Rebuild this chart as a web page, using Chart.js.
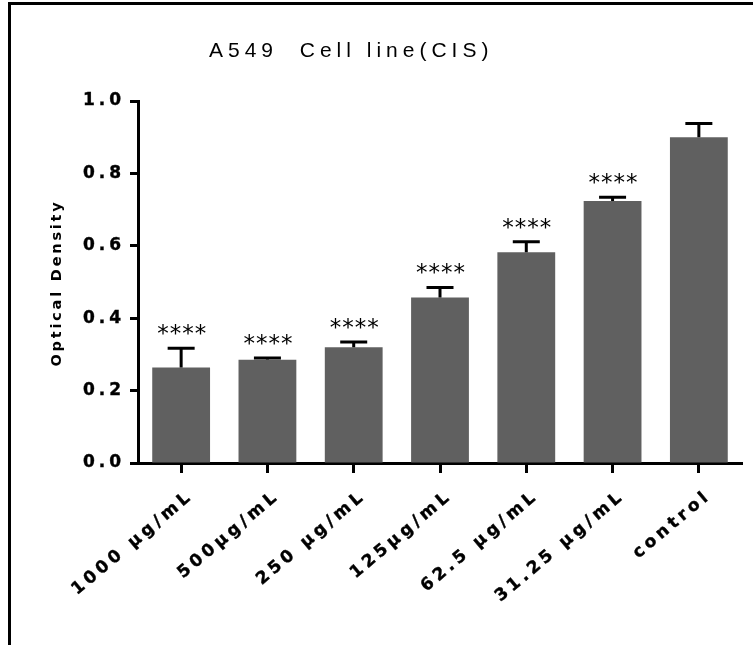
<!DOCTYPE html>
<html>
<head>
<meta charset="utf-8">
<script src="https://cdn.jsdelivr.net/npm/chart.js@4.4.1/dist/chart.umd.min.js"></script>
<style>
    body { margin: 0; background: #fff; }
    #wrap { position: relative; width: 753px; height: 645px; }
    #frame {
        position: absolute; left: 8px; top: 2px; right: 0; bottom: 0;
        border-left: 3px solid #000; border-top: 3px solid #000;
        pointer-events: none;
    }
</style>
</head>
<body>
<div id="wrap">
    <canvas id="odChart"></canvas>
    <div id="frame"></div>
</div>
<script>
const categories = ['1000 µg/mL', '500µg/mL', '250 µg/mL', '125µg/mL', '62.5 µg/mL', '31.25 µg/mL', 'control'];
const meanOD = [0.264, 0.285, 0.320, 0.457, 0.582, 0.724, 0.900];
const sdOD = [0.053, 0.005, 0.014, 0.028, 0.029, 0.010, 0.038];
const significance = ['****', '****', '****', '****', '****', '****', ''];
const yTickLabels = ['0.0', '0.2', '0.4', '0.6', '0.8', '1.0'];

const chartTitle = 'A549  Cell line(CIS)';
const yTitle = 'Optical Density';

// letter spacing for the tick labels (the original is very spread out)
const spacingPlugin = {
    id: 'spacing',
    beforeLayout(chart) { chart.ctx.letterSpacing = '4px'; },
    beforeDraw(chart) { chart.ctx.letterSpacing = '4px'; }
};

// one-sided error bars, stars and the titles
const extrasPlugin = {
    id: 'extras',
    afterDatasetsDraw(chart) {
        const ctx = chart.ctx;
        const x = chart.scales.x;
        const y = chart.scales.y;
        ctx.save();
        ctx.strokeStyle = '#000';
        ctx.lineWidth = 3;
        meanOD.forEach((m, i) => {
            const cx = x.getPixelForValue(i);
            const yTop = y.getPixelForValue(m + sdOD[i]);
            const yBar = y.getPixelForValue(m);
            ctx.beginPath();
            ctx.moveTo(cx, yBar);
            ctx.lineTo(cx, yTop);
            ctx.moveTo(cx - 13.5, yTop);
            ctx.lineTo(cx + 13.5, yTop);
            ctx.stroke();
        });

        ctx.fillStyle = '#000';
        ctx.font = '23px "DejaVu Sans"';
        ctx.letterSpacing = '1px';
        ctx.textAlign = 'center';
        ctx.textBaseline = 'middle';
        significance.forEach((s, i) => {
            if (!s) return;
            const cx = x.getPixelForValue(i);
            const yTop = y.getPixelForValue(meanOD[i] + sdOD[i]);
            ctx.fillText(s, cx + 1, yTop - 13);
        });
        ctx.restore();
    },
    afterDraw(chart) {
        const ctx = chart.ctx;
        ctx.save();
        ctx.fillStyle = '#000';
        ctx.font = '21px "Liberation Sans"';
        ctx.letterSpacing = '5px';
        ctx.textAlign = 'left';
        ctx.textBaseline = 'middle';
        ctx.fillText(chartTitle, 209, 51);

        ctx.font = 'bold 14.5px "DejaVu Sans"';
        ctx.letterSpacing = '2.8px';
        ctx.translate(57, 283);
        ctx.rotate(-Math.PI / 2);
        ctx.textAlign = 'center';
        ctx.fillText(yTitle, 0, 0);
        ctx.restore();
    }
};

Chart.defaults.color = '#000';

new Chart(document.getElementById('odChart'), {
    type: 'bar',
    data: {
        labels: categories,
        datasets: [{
            data: meanOD,
            backgroundColor: '#606060',
            borderWidth: 0,
            barPercentage: 0.67,
            categoryPercentage: 1.0
        }]
    },
    options: {
        responsive: true,
        maintainAspectRatio: false,
        animation: false,
        layout: {
            padding: { left: 10, top: 101, right: 11, bottom: 0 }
        },
        plugins: {
            legend: { display: false },
            tooltip: { enabled: false }
        },
        scales: {
            x: {
                afterFit(scale) { scale.height = 182; },
                border: { display: true, color: '#000', width: 3 },
                grid: {
                    offset: false,
                    drawOnChartArea: false,
                    drawTicks: true,
                    tickLength: 10,
                    tickWidth: 3,
                    tickColor: '#000'
                },
                ticks: {
                    minRotation: 40,
                    maxRotation: 40,
                    padding: 13,
                    labelOffset: 10,
                    autoSkip: false,
                    textStrokeColor: '#000',
                    textStrokeWidth: 0.4,
                    font: { family: 'DejaVu Sans', size: 17, weight: 'bold' }
                }
            },
            y: {
                min: 0,
                max: 1.0,
                afterFit(scale) { scale.width = 128; },
                border: { display: true, color: '#000', width: 3 },
                grid: {
                    drawOnChartArea: false,
                    drawTicks: true,
                    tickLength: 8,
                    tickWidth: 3,
                    tickColor: '#000'
                },
                ticks: {
                    stepSize: 0.2,
                    padding: 5,
                    callback: (v, i) => yTickLabels[i],
                    textStrokeColor: '#000',
                    textStrokeWidth: 0.4,
                    font: { family: 'DejaVu Sans', size: 17, weight: 'bold' }
                }
            }
        }
    },
    plugins: [spacingPlugin, extrasPlugin]
});
</script>
</body>
</html>
